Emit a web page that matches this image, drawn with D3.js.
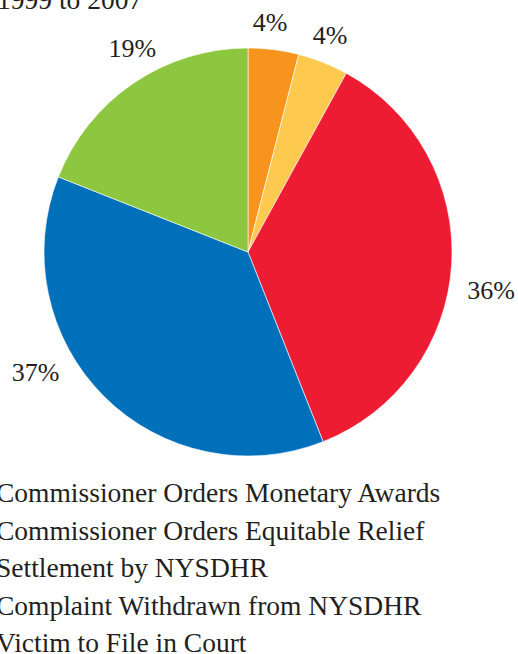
<!DOCTYPE html>
<html>
<head>
<meta charset="utf-8">
<script src="https://cdn.jsdelivr.net/npm/d3@7"></script>
<style>
  html, body { margin: 0; padding: 0; background: #fff; }
  svg { display: block; }
  text { font-family: "Liberation Serif", "DejaVu Serif", serif; fill: #231f20; }
</style>
</head>
<body>
<svg id="chart" width="518" height="654"></svg>
<script>
// Case outcomes, 1999 to 2007 (percent of total)
const categories = [
  "Commissioner Orders Monetary Awards",
  "Commissioner Orders Equitable Relief",
  "Settlement by NYSDHR",
  "Complaint Withdrawn from NYSDHR",
  "Victim to File in Court"
];
const values = [4, 4, 36, 37, 19];
const colors = ["#f7941d", "#fdc94f", "#ed1c33", "#0070bb", "#8dc63f"];
const title = "1999 to 2007";

// label placement tweaks (radius px, angle nudge in degrees)
const labelRadius = [231, 232, 246, 244, 235];
const labelNudge = [-1.7, -0.9, 5.3, 15.5, 4.7];

const svg = d3.select("#chart");
const cx = 248, cy = 252, r = 204;

svg.append("text")
  .attr("x", -3).attr("y", 9)
  .attr("font-size", 27.5)
  .text(title);

const pie = d3.pie().sort(null).value(d => d);
const arcs = pie(values);
const arc = d3.arc().innerRadius(0).outerRadius(r);

const g = svg.append("g").attr("transform", `translate(${cx},${cy})`);
g.selectAll("path.slice")
  .data(arcs)
  .join("path")
  .attr("class", "slice")
  .attr("d", arc)
  .attr("fill", (d, i) => colors[i])
  .attr("stroke", "#fff")
  .attr("stroke-width", 0.6)
  .attr("stroke-linejoin", "round");

g.selectAll("text.pct")
  .data(arcs)
  .join("text")
  .attr("class", "pct")
  .attr("font-size", 26)
  .attr("text-anchor", "middle")
  .attr("dy", "0.35em")
  .attr("x", (d, i) => {
    const a = (d.startAngle + d.endAngle) / 2 + labelNudge[i] * Math.PI / 180;
    return Math.sin(a) * labelRadius[i];
  })
  .attr("y", (d, i) => {
    const a = (d.startAngle + d.endAngle) / 2 + labelNudge[i] * Math.PI / 180;
    return -Math.cos(a) * labelRadius[i];
  })
  .text(d => d.data + "%");

// legend
const legendY = d3.scalePoint().domain(categories).range([502, 652]);
const legend = svg.append("g");
legend.selectAll("rect")
  .data(categories)
  .join("rect")
  .attr("x", -30).attr("width", 18).attr("height", 18)
  .attr("y", d => legendY(d) - 17)
  .attr("fill", (d, i) => colors[i]);
legend.selectAll("text")
  .data(categories)
  .join("text")
  .attr("x", -4)
  .attr("y", d => legendY(d))
  .attr("font-size", 27.5)
  .text(d => d);
</script>
</body>
</html>
